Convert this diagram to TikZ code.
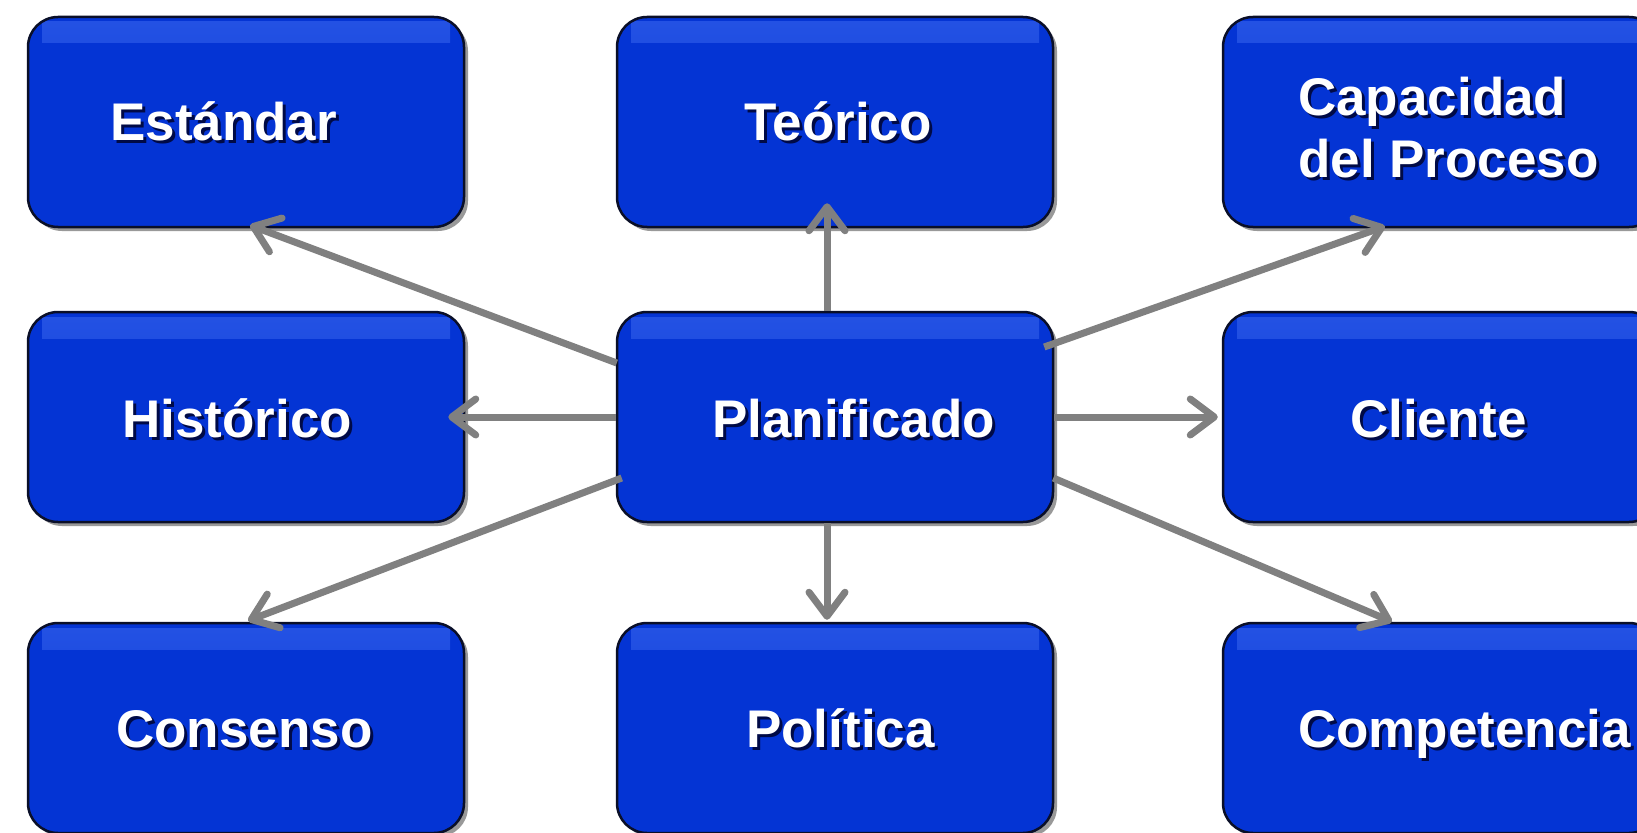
\documentclass[tikz,border=0pt]{standalone}
\usepackage{fontspec}
\setmainfont{Liberation Sans}
\usetikzlibrary{arrows.meta,shadows,calc}
\definecolor{boxblue}{RGB}{4,52,212}
\definecolor{boxhi}{RGB}{36,82,228}
\definecolor{boxline}{RGB}{10,15,40}
\definecolor{arrowgray}{RGB}{128,128,128}
\definecolor{txtshadow}{RGB}{0,10,70}
\newcommand\shtxt[1]{\rlap{\kern3pt\raisebox{-3pt}{\textcolor{txtshadow}{#1}}}#1}
\tikzset{
 box/.style={draw=boxline, line width=2.5pt, fill=boxblue, rounded corners=30pt,
   minimum width=436pt, minimum height=210pt, inner sep=0pt,
   drop shadow={shadow xshift=4pt, shadow yshift=-4pt, opacity=0.4, fill=black},
   path picture={\fill[sharp corners, top color=boxhi, bottom color=boxblue]
     ([xshift=14pt,yshift=-5pt]path picture bounding box.north west) rectangle
     ([xshift=-14pt,yshift=-26pt]path picture bounding box.north east);}},
 lbl/.style={text=white, font=\fontsize{53}{62}\selectfont\bfseries, inner sep=0pt,
   anchor=base west, align=left},
 conn/.style={draw=arrowgray, line width=7pt,
   -{Straight Barb[length=24pt,width=36pt,line cap=round,line join=round]}},
}
\begin{document}
\begin{tikzpicture}[x=1pt,y=-1pt]
\useasboundingbox (0,0) rectangle (1637,832);
\fill[white] (0,0) rectangle (1637,832);
% boxes
\node[box] (est) at (246,122) {};
\node[box] (teo) at (835,122) {};
\node[box] (cap) at (1441,122) {};
\node[box] (his) at (246,417) {};
\node[box] (pla) at (835,417) {};
\node[box] (cli) at (1441,417) {};
\node[box] (con) at (246,728) {};
\node[box] (pol) at (835,728) {};
\node[box] (com) at (1441,728) {};
% labels
\node[lbl] (test) at (110,140) {\shtxt{Estándar}};
\node[lbl] (tteo) at (744,140) {\shtxt{Teórico}};
\node[lbl] (tcap) at (1298,177) {\shtxt{Capacidad}\\\shtxt{del Proceso}};
\node[lbl] (this) at (122,437) {\shtxt{Histórico}};
\node[lbl] (tpla) at (712,437) {\shtxt{Planificado}};
\node[lbl] (tcli) at (1350,437) {\shtxt{Cliente}};
\node[lbl] (tcon) at (116,747) {\shtxt{Consenso}};
\node[lbl] (tpol) at (746,747) {\shtxt{Política}};
\node[lbl] (tcom) at (1298,747) {\shtxt{Competencia}};
% connectors
\draw[conn] ($(pla.west)+(1,-54)$) -- ($(est.south)+(4,-3)$);
\draw[conn] ($(pla.north)+(-8,0)$) -- ($(teo.south)+(-8,-25)$);
\draw[conn] ($(pla.east)+(-10,-70)$) -- ($(cap.south)+(-56,-2)$);
\draw[conn] (pla.west) -- ($(his.east)+(-17,0)$);
\draw[conn] (pla.east) -- ($(cli.west)+(-4,0)$);
\draw[conn] ($(pla.west)+(6,61)$) -- ($(con.north)+(2,-1)$);
\draw[conn] ($(pla.south)+(-8,0)$) -- ($(pol.north)+(-8,-2)$);
\draw[conn] ($(pla.east)+(-1,61)$) -- ($(com.north)+(-49,0)$);
\end{tikzpicture}
\end{document}
